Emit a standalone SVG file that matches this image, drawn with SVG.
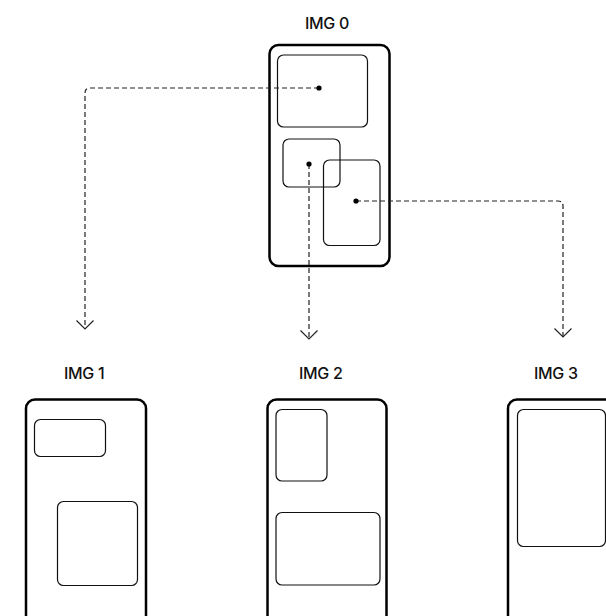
<svg xmlns="http://www.w3.org/2000/svg" width="606" height="616" viewBox="0 0 606 616">
<style>
.frame{fill:#fff;stroke:#000;stroke-width:2.5}
.box{fill:none;stroke:#111;stroke-width:1.2}
.lbl{font-family:Inter,"Liberation Sans",sans-serif;font-size:16px;font-weight:500;fill:#111;letter-spacing:-0.3px}
.conn{fill:none;stroke:#222;stroke-width:1.2;stroke-dasharray:5 3}
.dot{fill:#000}
</style>
<defs>
<marker id="chev" markerUnits="userSpaceOnUse" viewBox="-10 -10 12 20" markerWidth="12" markerHeight="20" refX="0" refY="0" orient="auto">
<path d="M-8.5,-8.5 L0,0 L-8.5,8.5" fill="none" stroke="#222" stroke-width="1.2"/>
</marker>
</defs>
<rect width="606" height="616" fill="#fff"/>
<g id="img0">
<text class="lbl" x="305" y="29">IMG 0</text>
<rect class="frame" x="269.5" y="45" width="120" height="221" rx="9"/>
<rect class="box" x="277.5" y="55" width="90" height="72" rx="6"/>
<rect class="box" x="283" y="139" width="57" height="48" rx="6"/>
<rect class="box" x="323.5" y="160" width="56.5" height="85.5" rx="6"/>
</g>
<g id="img1">
<text class="lbl" x="64" y="379">IMG 1</text>
<rect class="frame" x="26" y="399.5" width="120" height="225" rx="9"/>
<rect class="box" x="34.5" y="419.5" width="71" height="37" rx="6"/>
<rect class="box" x="57.5" y="501.5" width="80" height="84" rx="6"/>
</g>
<g id="img2">
<text class="lbl" x="299" y="379">IMG 2</text>
<rect class="frame" x="267.5" y="399.5" width="119" height="225" rx="9"/>
<rect class="box" x="276" y="409.5" width="51" height="71.5" rx="6"/>
<rect class="box" x="276" y="512.5" width="104" height="72.5" rx="6"/>
</g>
<g id="img3">
<text class="lbl" x="534" y="379">IMG 3</text>
<rect class="frame" x="508" y="399.5" width="120" height="225" rx="9"/>
<rect class="box" x="517.5" y="409.5" width="88" height="137" rx="6"/>
</g>
<g id="connectors">
<path class="conn" d="M319,88 H90 Q85,88 85,93 V329" marker-end="url(#chev)"/>
<path class="conn" d="M309,164 V339" marker-end="url(#chev)"/>
<path class="conn" d="M356,201 H558 Q563,201 563,206 V337" marker-end="url(#chev)"/>
<circle class="dot" cx="319" cy="88" r="2.6"/>
<circle class="dot" cx="309" cy="164" r="2.6"/>
<circle class="dot" cx="356" cy="201" r="2.6"/>
</g>
</svg>
